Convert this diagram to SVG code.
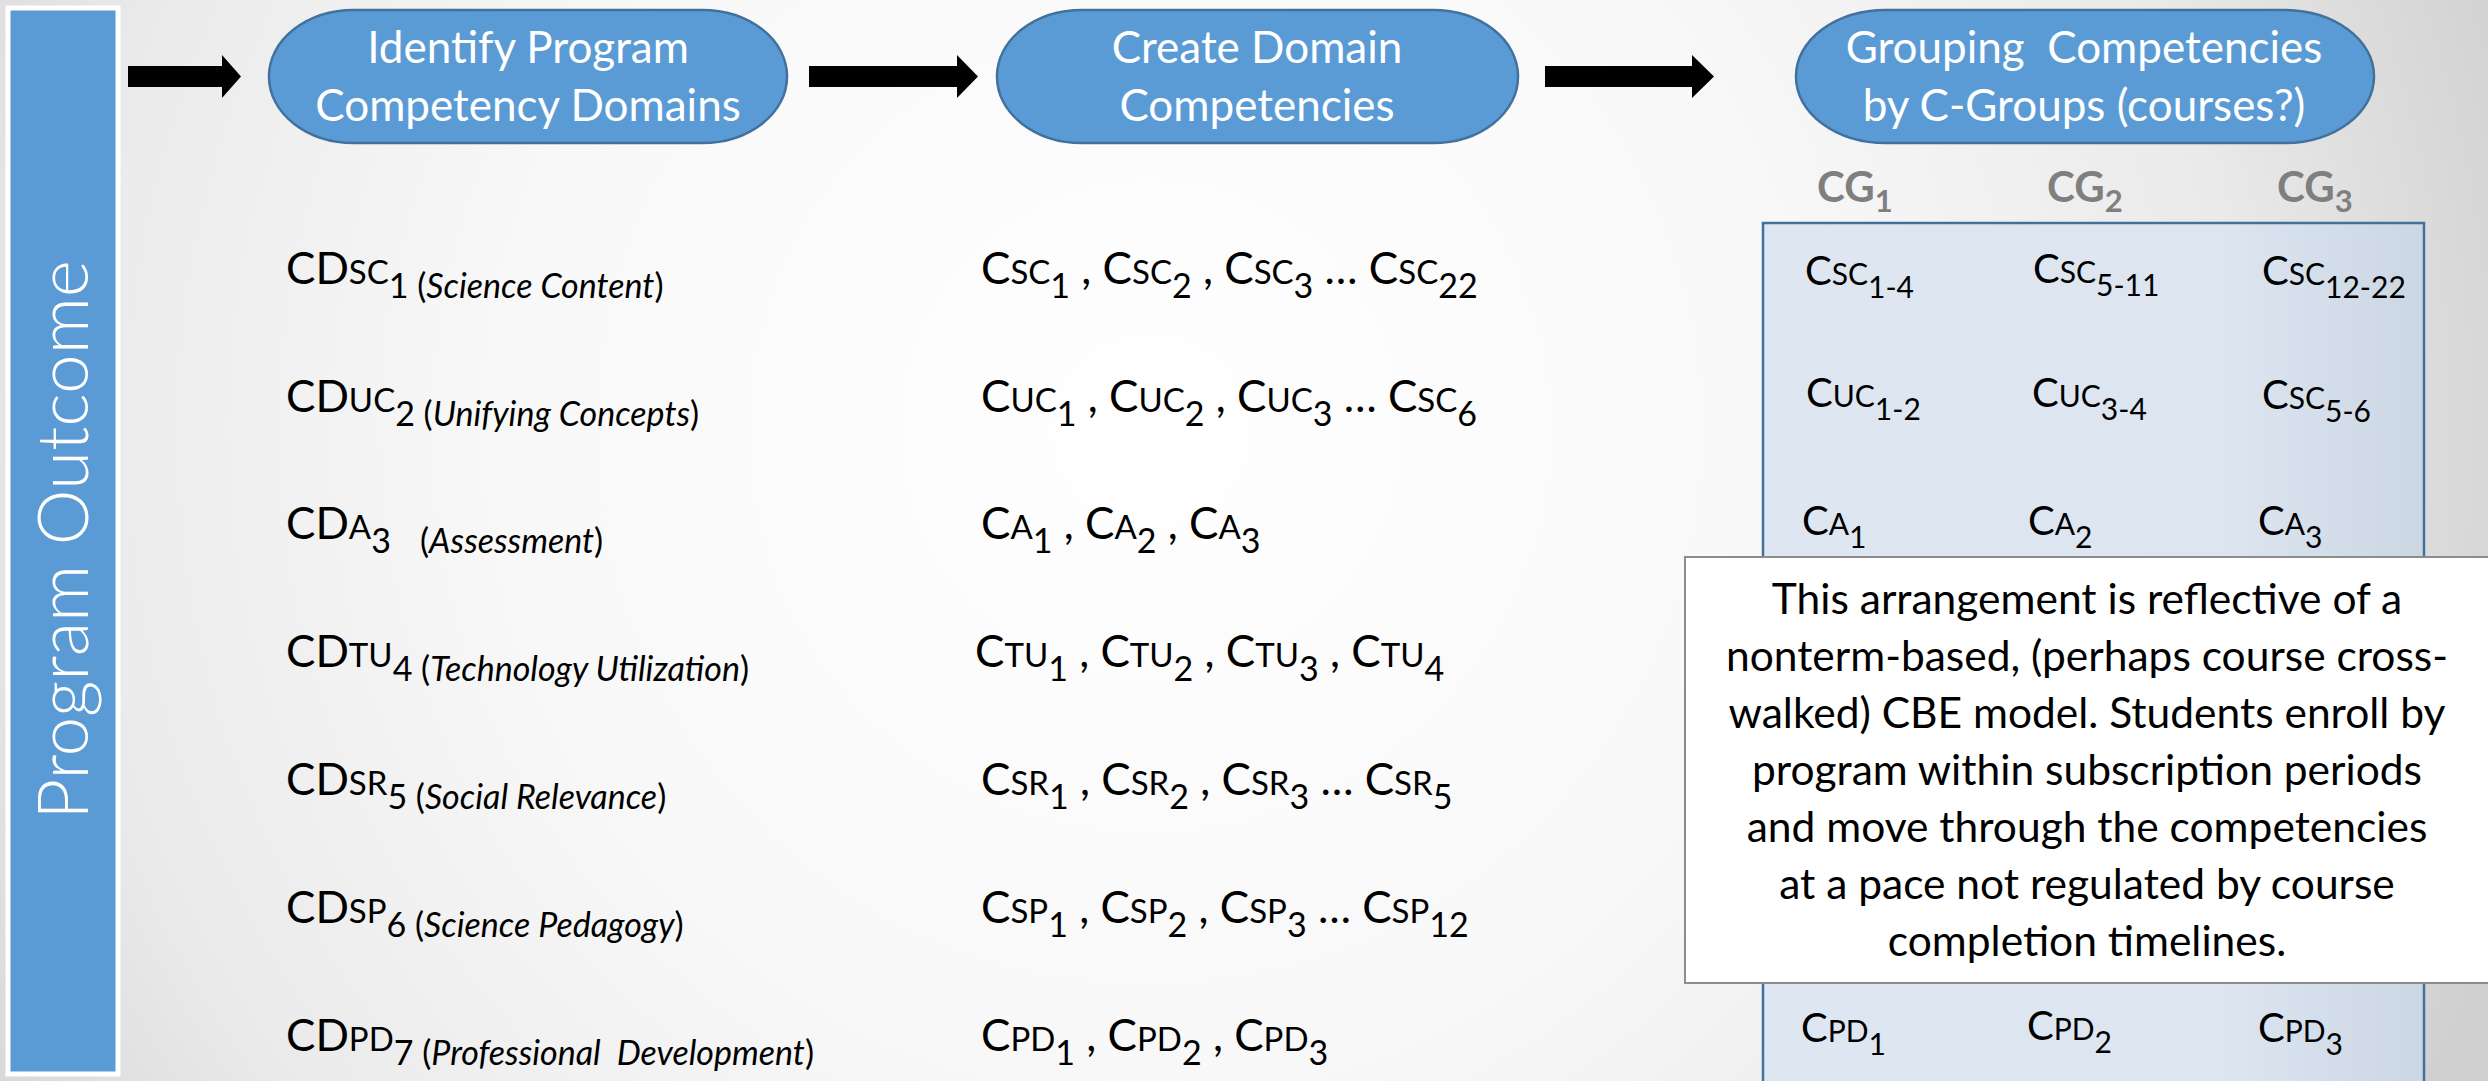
<svg xmlns="http://www.w3.org/2000/svg" width="2488" height="1081" viewBox="0 0 2488 1081">
<defs>
<radialGradient id="bg" gradientUnits="userSpaceOnUse" cx="1150" cy="430" r="1450">
<stop offset="0" stop-color="#FFFFFF"/>
<stop offset="0.45" stop-color="#F8F8F8"/>
<stop offset="0.75" stop-color="#EAEAEA"/>
<stop offset="1" stop-color="#CFCFCF"/>
</radialGradient>
<linearGradient id="boxg" x1="0" y1="0" x2="1" y2="0">
<stop offset="0" stop-color="#DEE7F1"/>
<stop offset="0.7" stop-color="#DCE5F0"/>
<stop offset="1" stop-color="#CCD7E4"/>
</linearGradient>
<style>
text{font-family:Lato,"Liberation Sans",sans-serif;}
.oval{fill:#5B9BD5;stroke:#41719C;stroke-width:2.5;}
.ot{fill:#FFFFFF;font-size:44px;text-anchor:middle;}
.t{fill:#000000;font-size:44px;}
.sc{font-size:33px;}
.sb{font-size:34px;}
.b{fill:#000000;font-size:40px;}
.bsc{font-size:30px;}
.bsb{font-size:30px;}
.it{font-style:italic;}
.cg{fill:#7F7F7F;font-size:42px;font-weight:bold;}
.cgs{font-size:31px;}
.ct{fill:#000000;font-size:42.5px;text-anchor:middle;}
.arrow{fill:#000000;}
</style>
</defs>
<rect x="0" y="0" width="2488" height="1081" fill="url(#bg)"/>

<g id="program-outcome">
<rect x="8" y="8" width="110" height="1066" fill="#5B9BD5" stroke="#FFFFFF" stroke-width="5"/>
<text transform="rotate(-90)" x="-540" y="88" fill="#FFFFFF" font-size="71" font-weight="300" text-anchor="middle">Program Outcome</text>
</g>

<g id="connectors">
<polygon class="arrow" points="128,66 222,66 222,55 241,76.5 222,98 222,87 128,87"/>
<polygon class="arrow" points="809,66 957,66 957,55 978,76.5 957,98 957,87 809,87"/>
<polygon class="arrow" points="1545,66 1692,66 1692,55 1714,76.5 1692,98 1692,87 1545,87"/>
</g>

<g id="identify-domains">
<rect class="oval" x="269" y="10" width="518" height="133" rx="85" ry="66"/>
<text class="ot" x="528" y="63">Identify Program</text>
<text class="ot" x="528" y="121">Competency Domains</text>
</g>

<g id="create-competencies">
<rect class="oval" x="997" y="10" width="521" height="133" rx="85" ry="66"/>
<text class="ot" x="1257" y="63">Create Domain</text>
<text class="ot" x="1257" y="121">Competencies</text>
</g>

<g id="grouping">
<rect class="oval" x="1796" y="10" width="578" height="133" rx="90" ry="66"/>
<text class="ot" x="2084" y="63" xml:space="preserve">Grouping  Competencies</text>
<text class="ot" x="2084" y="121">by C-Groups (courses?)</text>
</g>

<g id="domains">
<text class="t" x="286" y="284">CD<tspan class="sc">SC</tspan><tspan class="sb" dy="14">1 (<tspan class="it">Science Content</tspan>)</tspan></text>
<text class="t" x="286" y="412">CD<tspan class="sc">UC</tspan><tspan class="sb" dy="14">2 (<tspan class="it">Unifying Concepts</tspan>)</tspan></text>
<text class="t" x="286" y="539">CD<tspan class="sc">A</tspan><tspan class="sb" dy="14">3</tspan><tspan class="sb" x="420">(<tspan class="it">Assessment</tspan>)</tspan></text>
<text class="t" x="286" y="667">CD<tspan class="sc">TU</tspan><tspan class="sb" dy="14">4 (<tspan class="it">Technology Utilization</tspan>)</tspan></text>
<text class="t" x="286" y="795">CD<tspan class="sc">SR</tspan><tspan class="sb" dy="14">5 (<tspan class="it">Social Relevance</tspan>)</tspan></text>
<text class="t" x="286" y="923">CD<tspan class="sc">SP</tspan><tspan class="sb" dy="14">6 (<tspan class="it">Science Pedagogy</tspan>)</tspan></text>
<text class="t" x="286" y="1051" xml:space="preserve">CD<tspan class="sc">PD</tspan><tspan class="sb" dy="14">7 (<tspan class="it">Professional  Development</tspan>)</tspan></text>
</g>

<g id="competencies">
<text class="t" x="981" y="284">C<tspan class="sc">SC</tspan><tspan class="sb" dy="14">1</tspan><tspan dy="-14"> , C</tspan><tspan class="sc">SC</tspan><tspan class="sb" dy="14">2</tspan><tspan dy="-14"> , C</tspan><tspan class="sc">SC</tspan><tspan class="sb" dy="14">3</tspan><tspan dy="-14"> … C</tspan><tspan class="sc">SC</tspan><tspan class="sb" dy="14">22</tspan></text>
<text class="t" x="981" y="412">C<tspan class="sc">UC</tspan><tspan class="sb" dy="14">1</tspan><tspan dy="-14"> , C</tspan><tspan class="sc">UC</tspan><tspan class="sb" dy="14">2</tspan><tspan dy="-14"> , C</tspan><tspan class="sc">UC</tspan><tspan class="sb" dy="14">3</tspan><tspan dy="-14"> … C</tspan><tspan class="sc">SC</tspan><tspan class="sb" dy="14">6</tspan></text>
<text class="t" x="981" y="539">C<tspan class="sc">A</tspan><tspan class="sb" dy="14">1</tspan><tspan dy="-14"> , C</tspan><tspan class="sc">A</tspan><tspan class="sb" dy="14">2</tspan><tspan dy="-14"> , C</tspan><tspan class="sc">A</tspan><tspan class="sb" dy="14">3</tspan></text>
<text class="t" x="975" y="667">C<tspan class="sc">TU</tspan><tspan class="sb" dy="14">1</tspan><tspan dy="-14"> , C</tspan><tspan class="sc">TU</tspan><tspan class="sb" dy="14">2</tspan><tspan dy="-14"> , C</tspan><tspan class="sc">TU</tspan><tspan class="sb" dy="14">3</tspan><tspan dy="-14"> , C</tspan><tspan class="sc">TU</tspan><tspan class="sb" dy="14">4</tspan></text>
<text class="t" x="981" y="795">C<tspan class="sc">SR</tspan><tspan class="sb" dy="14">1</tspan><tspan dy="-14"> , C</tspan><tspan class="sc">SR</tspan><tspan class="sb" dy="14">2</tspan><tspan dy="-14"> , C</tspan><tspan class="sc">SR</tspan><tspan class="sb" dy="14">3</tspan><tspan dy="-14"> … C</tspan><tspan class="sc">SR</tspan><tspan class="sb" dy="14">5</tspan></text>
<text class="t" x="981" y="923">C<tspan class="sc">SP</tspan><tspan class="sb" dy="14">1</tspan><tspan dy="-14"> , C</tspan><tspan class="sc">SP</tspan><tspan class="sb" dy="14">2</tspan><tspan dy="-14"> , C</tspan><tspan class="sc">SP</tspan><tspan class="sb" dy="14">3</tspan><tspan dy="-14"> … C</tspan><tspan class="sc">SP</tspan><tspan class="sb" dy="14">12</tspan></text>
<text class="t" x="981" y="1051">C<tspan class="sc">PD</tspan><tspan class="sb" dy="14">1</tspan><tspan dy="-14"> , C</tspan><tspan class="sc">PD</tspan><tspan class="sb" dy="14">2</tspan><tspan dy="-14"> , C</tspan><tspan class="sc">PD</tspan><tspan class="sb" dy="14">3</tspan></text>
</g>

<g id="cg-headers">
<text class="cg" x="1817" y="202">CG<tspan class="cgs" dy="10">1</tspan></text>
<text class="cg" x="2047" y="202">CG<tspan class="cgs" dy="10">2</tspan></text>
<text class="cg" x="2277" y="202">CG<tspan class="cgs" dy="10">3</tspan></text>
</g>

<g id="c-groups">
<rect x="1763" y="223" width="661" height="880" fill="url(#boxg)" stroke="#41719C" stroke-width="2.5"/>
<text class="b" x="1805" y="285">C<tspan class="bsc">SC</tspan><tspan class="bsb" dy="13">1-4</tspan></text>
<text class="b" x="2033" y="283">C<tspan class="bsc">SC</tspan><tspan class="bsb" dy="13">5-11</tspan></text>
<text class="b" x="2262" y="285">C<tspan class="bsc">SC</tspan><tspan class="bsb" dy="13">12-22</tspan></text>
<text class="b" x="1806" y="407">C<tspan class="bsc">UC</tspan><tspan class="bsb" dy="13">1-2</tspan></text>
<text class="b" x="2032" y="407">C<tspan class="bsc">UC</tspan><tspan class="bsb" dy="13">3-4</tspan></text>
<text class="b" x="2262" y="409">C<tspan class="bsc">SC</tspan><tspan class="bsb" dy="13">5-6</tspan></text>
<text class="b" x="1802" y="535">C<tspan class="bsc">A</tspan><tspan class="bsb" dy="13">1</tspan></text>
<text class="b" x="2028" y="535">C<tspan class="bsc">A</tspan><tspan class="bsb" dy="13">2</tspan></text>
<text class="b" x="2258" y="535">C<tspan class="bsc">A</tspan><tspan class="bsb" dy="13">3</tspan></text>
<text class="b" x="1801" y="1042">C<tspan class="bsc">PD</tspan><tspan class="bsb" dy="13">1</tspan></text>
<text class="b" x="2027" y="1040">C<tspan class="bsc">PD</tspan><tspan class="bsb" dy="13">2</tspan></text>
<text class="b" x="2258" y="1042">C<tspan class="bsc">PD</tspan><tspan class="bsb" dy="13">3</tspan></text>
</g>

<g id="callout">
<rect x="1685" y="557" width="806" height="426" fill="#FFFFFF" stroke="#8C8C8C" stroke-width="2"/>
<text class="ct" x="2087" y="614">This arrangement is reflective of a</text>
<text class="ct" x="2087" y="671">nonterm-based, (perhaps course cross-</text>
<text class="ct" x="2087" y="728">walked) CBE model. Students enroll by</text>
<text class="ct" x="2087" y="785">program within subscription periods</text>
<text class="ct" x="2087" y="842">and move through the competencies</text>
<text class="ct" x="2087" y="899">at a pace not regulated by course</text>
<text class="ct" x="2087" y="956">completion timelines.</text>
</g>
</svg>
